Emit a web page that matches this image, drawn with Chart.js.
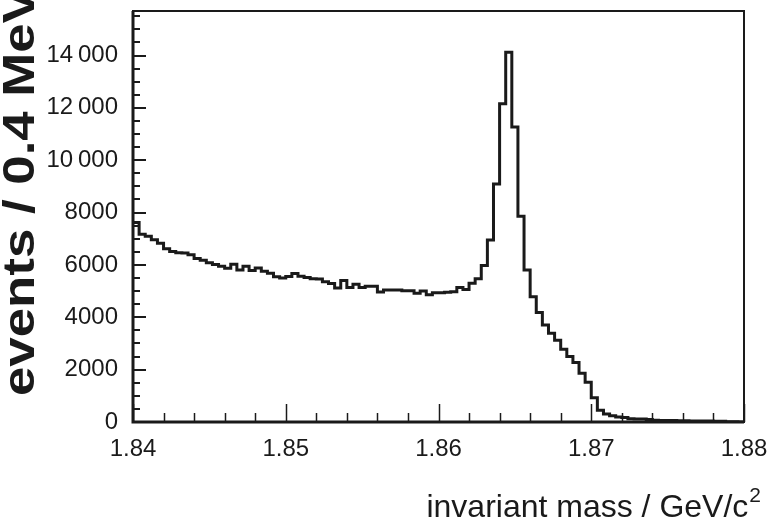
<!DOCTYPE html>
<html>
<head>
<meta charset="utf-8">
<script src="https://cdn.jsdelivr.net/npm/chart.js@4.4.1/dist/chart.umd.min.js"></script>
<style>
  html, body { margin: 0; padding: 0; background: #fff; }
  #wrap { width: 769px; height: 530px; }
</style>
</head>
<body>
<div id="wrap"><canvas id="histo" width="769" height="530"></canvas></div>
<script>
// Histograma de masa invariante, 100 bins de 0.4 MeV entre 1.84 y 1.88 GeV/c^2.
const X_MIN = 1.84;
const X_MAX = 1.88;
const BIN_WIDTH = 0.0004;
const Y_MAX = 15700;

// Cuentas por bin.
const COUNTS = [
  7620, 7170, 7100, 6960, 6830, 6615, 6514, 6470, 6460, 6390,
  6245, 6175, 6080, 6020, 5950, 5870, 6030, 5810, 5950, 5790,
  5880, 5760, 5680, 5550, 5500, 5560, 5670, 5570, 5520, 5470,
  5460, 5360, 5290, 5120, 5410, 5140, 5260, 5140, 5190, 5190,
  4970, 5040, 5040, 5040, 5010, 5010, 4920, 5000, 4860, 4940,
  4940, 4960, 4980, 5140, 5060, 5300, 5470, 5980, 6950, 9090,
  12160, 14120, 11270, 7860, 5810, 4780, 4180, 3710, 3390, 3120,
  2780, 2500, 2270, 1860, 1520, 930, 450, 306, 235, 195,
  170, 125, 115, 110, 100, 70, 62, 58, 55, 50,
  45, 42, 40, 38, 35, 32, 30, 12, 6, 3
];

const X_TICKS = [1.84, 1.85, 1.86, 1.87, 1.88];
const Y_TICKS = [0, 2000, 4000, 6000, 8000, 10000, 12000, 14000];
const X_MINOR_STEP = 0.002;
const Y_MINOR_STEP = 500;

const X_TITLE = "invariant mass / GeV/c";
const X_TITLE_SUP = "2";
const Y_TITLE = "events / 0.4 MeV";

const FONT = "'Liberation Sans', Arial, Helvetica, sans-serif";
const INK = "#1a1a1a";

// Puntos en el borde izquierdo de cada bin + cierre en X_MAX.
const puntos = COUNTS.map((c, i) => ({ x: X_MIN + i * BIN_WIDTH, y: c }));
puntos.push({ x: X_MAX, y: COUNTS[COUNTS.length - 1] });

function fmtMiles(v) {
  if (v >= 10000) {
    const s = String(v);
    return s.slice(0, s.length - 3) + "\u2009" + s.slice(-3);
  }
  return String(v);
}

// Sin margen extra por las etiquetas de los extremos.
function sinMargen(s) {
  s.paddingTop = 0;
  s.paddingBottom = 0;
  s.paddingLeft = 0;
  s.paddingRight = 0;
}

// Marco, ticks hacia dentro y titulos de ejes.
const marcoPlugin = {
  id: "marco",
  afterDatasetsDraw(chart) {
    const { ctx, chartArea: a, scales: { x, y } } = chart;
    ctx.save();
    ctx.strokeStyle = INK;

    // ticks eje x
    ctx.lineWidth = 1.5;
    const nx = Math.round((X_MAX - X_MIN) / X_MINOR_STEP);
    for (let i = 0; i <= nx; i++) {
      const v = X_MIN + i * X_MINOR_STEP;
      const major = X_TICKS.some(t => Math.abs(t - v) < 1e-7);
      const px = Math.round(x.getPixelForValue(v)) + 0.5;
      ctx.beginPath();
      ctx.moveTo(px, a.bottom);
      ctx.lineTo(px, a.bottom - (major ? 18 : 9));
      ctx.stroke();
    }

    // ticks eje y
    ctx.lineWidth = 2;
    const ny = Math.floor(Y_MAX / Y_MINOR_STEP);
    for (let i = 0; i <= ny; i++) {
      const v = i * Y_MINOR_STEP;
      const major = Y_TICKS.includes(v);
      const py = Math.round(y.getPixelForValue(v));
      ctx.beginPath();
      ctx.moveTo(a.left, py);
      ctx.lineTo(a.left + (major ? 13 : 7), py);
      ctx.stroke();
    }

    // marco
    ctx.lineWidth = 2;
    ctx.strokeRect(a.left, a.top, a.right - a.left, a.bottom - a.top);
    ctx.lineWidth = 3;
    ctx.beginPath();
    ctx.moveTo(a.left, a.top);
    ctx.lineTo(a.left, a.bottom);
    ctx.lineTo(a.right, a.bottom);
    ctx.stroke();
    ctx.restore();
  },
  afterDraw(chart) {
    const { ctx } = chart;
    ctx.save();
    ctx.fillStyle = INK;

    // titulo x, alineado a la derecha
    ctx.font = "32px " + FONT;
    ctx.textBaseline = "alphabetic";
    ctx.textAlign = "left";
    const wMain = ctx.measureText(X_TITLE).width;
    ctx.font = "21px " + FONT;
    const wSup = ctx.measureText(X_TITLE_SUP).width;
    const xEnd = 761;
    const x0 = xEnd - wSup - 1 - wMain;
    ctx.font = "32px " + FONT;
    ctx.fillText(X_TITLE, x0, 517);
    ctx.font = "21px " + FONT;
    ctx.fillText(X_TITLE_SUP, x0 + wMain + 1, 502);

    // titulo y, girado
    ctx.translate(22, 396);
    ctx.rotate(-Math.PI / 2);
    ctx.scale(1.2, 1);
    ctx.font = "bold 44px " + FONT;
    ctx.textAlign = "left";
    ctx.textBaseline = "middle";
    ctx.fillText(Y_TITLE, 0, 0);
    ctx.restore();
  }
};

new Chart(document.getElementById("histo"), {
  type: "line",
  data: {
    datasets: [{
      data: puntos,
      stepped: "before",
      borderColor: INK,
      borderWidth: 3,
      pointRadius: 0,
      fill: false,
      borderJoinStyle: "miter"
    }]
  },
  options: {
    responsive: false,
    animation: false,
    devicePixelRatio: 1,
    layout: { autoPadding: false, padding: { left: 0, top: 11, right: 25, bottom: 0 } },
    plugins: { legend: { display: false }, tooltip: { enabled: false } },
    scales: {
      x: {
        type: "linear",
        min: X_MIN,
        max: X_MAX,
        afterBuildTicks: s => { s.ticks = X_TICKS.map(v => ({ value: v })); },
        afterFit: s => { s.height = 108; sinMargen(s); },
        grid: { display: false, drawTicks: false },
        border: { display: false },
        ticks: {
          padding: 13,
          maxRotation: 0,
          autoSkip: false,
          color: INK,
          font: { family: FONT, size: 24 },
          callback: v => Number(v).toFixed(2)
        }
      },
      y: {
        min: 0,
        max: Y_MAX,
        afterBuildTicks: s => { s.ticks = Y_TICKS.map(v => ({ value: v })); },
        afterFit: s => { s.width = 133; sinMargen(s); },
        grid: { display: false, drawTicks: false },
        border: { display: false },
        ticks: {
          padding: 15,
          autoSkip: false,
          color: INK,
          font: { family: FONT, size: 24 },
          callback: v => fmtMiles(v)
        }
      }
    }
  },
  plugins: [marcoPlugin]
});
</script>
</body>
</html>
